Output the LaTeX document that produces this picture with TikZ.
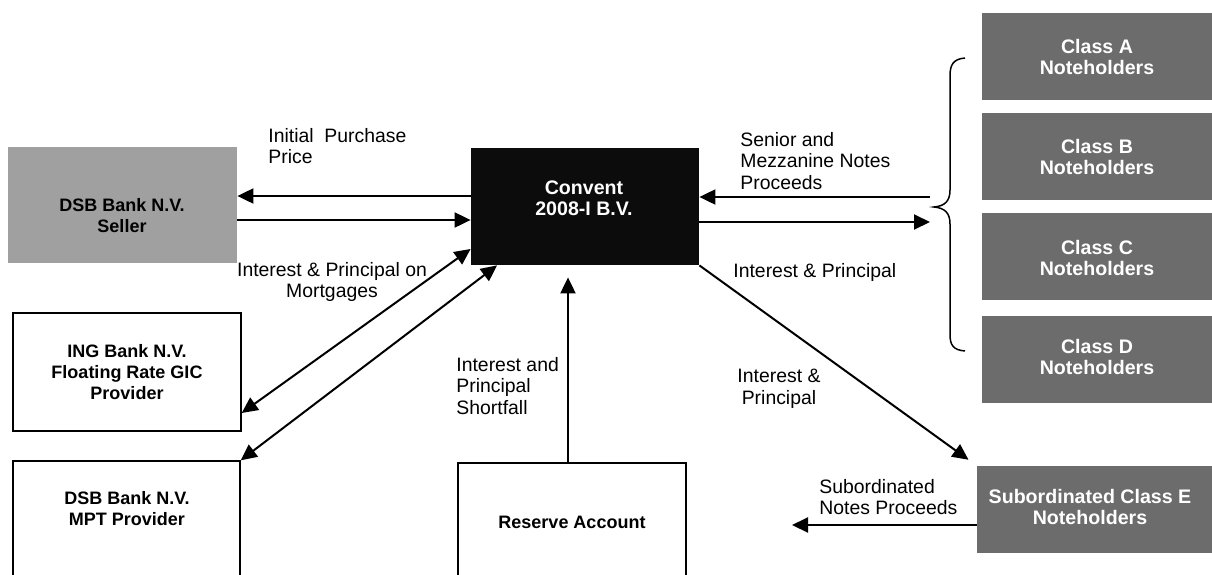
\documentclass[tikz,border=0pt]{standalone}
\usepackage{fontspec}
\setmainfont{Liberation Sans}
\usepackage{xcolor}
\definecolor{Col1}{RGB}{160,160,160}
\definecolor{Col2}{RGB}{108,108,108}
\definecolor{Col3}{RGB}{12,12,12}
\usetikzlibrary{arrows.meta}
\tikzstyle{Box}=[draw=black,line width=0.7pt,inner sep=0pt]
\tikzstyle{BoxF}=[inner sep=0pt]
\tikzstyle{BoxT}=[align=center,inner sep=0pt,font=\bfseries\fontsize{9}{10.5}\selectfont]
\tikzstyle{BoxTW}=[align=center,inner sep=0pt,text=white,
    font=\bfseries\fontsize{9.8}{10.6}\selectfont]
\tikzstyle{Lbl}=[align=left,inner sep=0pt,anchor=west,
    font=\fontsize{9.7}{10.8}\selectfont]
\tikzstyle{Edge}=[line width=1pt,-{Triangle[length=8pt,width=7.5pt]}]
\tikzstyle{EdgeB}=[line width=1pt,
    {Triangle[length=8pt,width=7.5pt]}-{Triangle[length=8pt,width=7.5pt]}]

\begin{document}
\begin{tikzpicture}[x=0.5pt,y=-0.5pt]
        \useasboundingbox(0,0)rectangle(1212,574);
        \clip(0,0)rectangle(1212,574);
        % boxes
        \node[BoxF,fill=Col1,minimum width=114.5pt,minimum height=58pt]
            (seller)at(122.5,205){};
        \node[BoxF,fill=Col3,minimum width=114pt,minimum height=58.5pt]
            (convent)at(585,206.5){};
        \node[Box,minimum width=114pt,minimum height=59pt](ing)at(127,372){};
        \node[Box,minimum width=113.5pt,minimum height=79.5pt]
            (mpt)at(126.5,540.5){};
        \node[Box,minimum width=114pt,minimum height=78.5pt]
            (reserve)at(572,541.5){};
        \node[BoxF,fill=Col2,minimum width=120pt,minimum height=43.5pt]
            (classA)at(1102,56.5){};
        \node[BoxF,fill=Col2,minimum width=120pt,minimum height=43.5pt]
            (classB)at(1102,156.5){};
        \node[BoxF,fill=Col2,minimum width=120pt,minimum height=43.5pt]
            (classC)at(1102,256.5){};
        \node[BoxF,fill=Col2,minimum width=120pt,minimum height=43.5pt]
            (classD)at(1102,359.5){};
        \node[BoxF,fill=Col2,minimum width=122.5pt,minimum height=43.5pt]
            (sub)at(1099.5,509.5){};
        % box texts
        \node[BoxT](tseller)at(122,216){DSB Bank N.V.\\Seller};
        \node[BoxTW](tconvent)at(584,198){Convent\\2008-I B.V.};
        \node[BoxT](ting)at(127,372){ING Bank N.V.\\Floating Rate GIC\\Provider};
        \node[BoxT](tmpt)at(127,509){DSB Bank N.V.\\MPT Provider};
        \node[BoxT](treserve)at(572,522){Reserve Account};
        \node[BoxTW](tclassA)at(1097,57){Class A\\Noteholders};
        \node[BoxTW](tclassB)at(1097,157){Class B\\Noteholders};
        \node[BoxTW](tclassC)at(1097,258){Class C\\Noteholders};
        \node[BoxTW](tclassD)at(1097,357){Class D\\Noteholders};
        \node[BoxTW](tsub)at(1090,507){Subordinated Class E\\Noteholders};
        % labels
        \node[Lbl](l1)at(268,146){Initial\ \ Purchase\\Price};
        \node[Lbl](l2)at(740,161){Senior and\\Mezzanine Notes\\Proceeds};
        \node[Lbl,align=center,anchor=center](l3)at(332,282)
            {Interest \& Principal on\\Mortgages};
        \node[Lbl](l4)at(733,272){Interest \& Principal};
        \node[Lbl](l5)at(456,386){Interest and\\Principal\\Shortfall};
        \node[Lbl,align=center,anchor=center](l6)at(779,389)
            {Interest \&\\Principal};
        \node[Lbl](l7)at(819,497){Subordinated\\Notes Proceeds};
        % brace
        \coordinate(btip)at(934,207);
        \coordinate(bin)at(930,197);
        \coordinate(bout)at(930,222);
        \coordinate(subend)at(792,525);
        \draw[line width=0.75pt](965,58)..controls(953,59)and(950,65)..(950,76)
            --(950,190)..controls(950,201)and(945,206)..(btip)
            ..controls(945,208)and(950,213)..(950,224)
            --(950,334)..controls(950,345)and(953,350)..(965,351);
        % arrows
        \draw[Edge](convent.west|-0,196)--(seller.east|-0,196);
        \draw[Edge](seller.east|-0,220)--(convent.west|-0,220);
        \draw[Edge](bin)--(convent.east|-bin);
        \draw[Edge](convent.east|-bout)--(bout);
        \draw[EdgeB](ing.east|-0,413)--(convent.west|-0,249);
        \draw[EdgeB](mpt.north east)--(convent.south-|497,0);
        \draw[Edge,shorten >=6pt](reserve.north-|568,0)--(convent.south-|568,0);
        \draw[Edge,shorten >=5pt](convent.south east)--(sub.north west);
        \draw[Edge](sub.west|-subend)--(subend);
\end{tikzpicture}
\end{document}
